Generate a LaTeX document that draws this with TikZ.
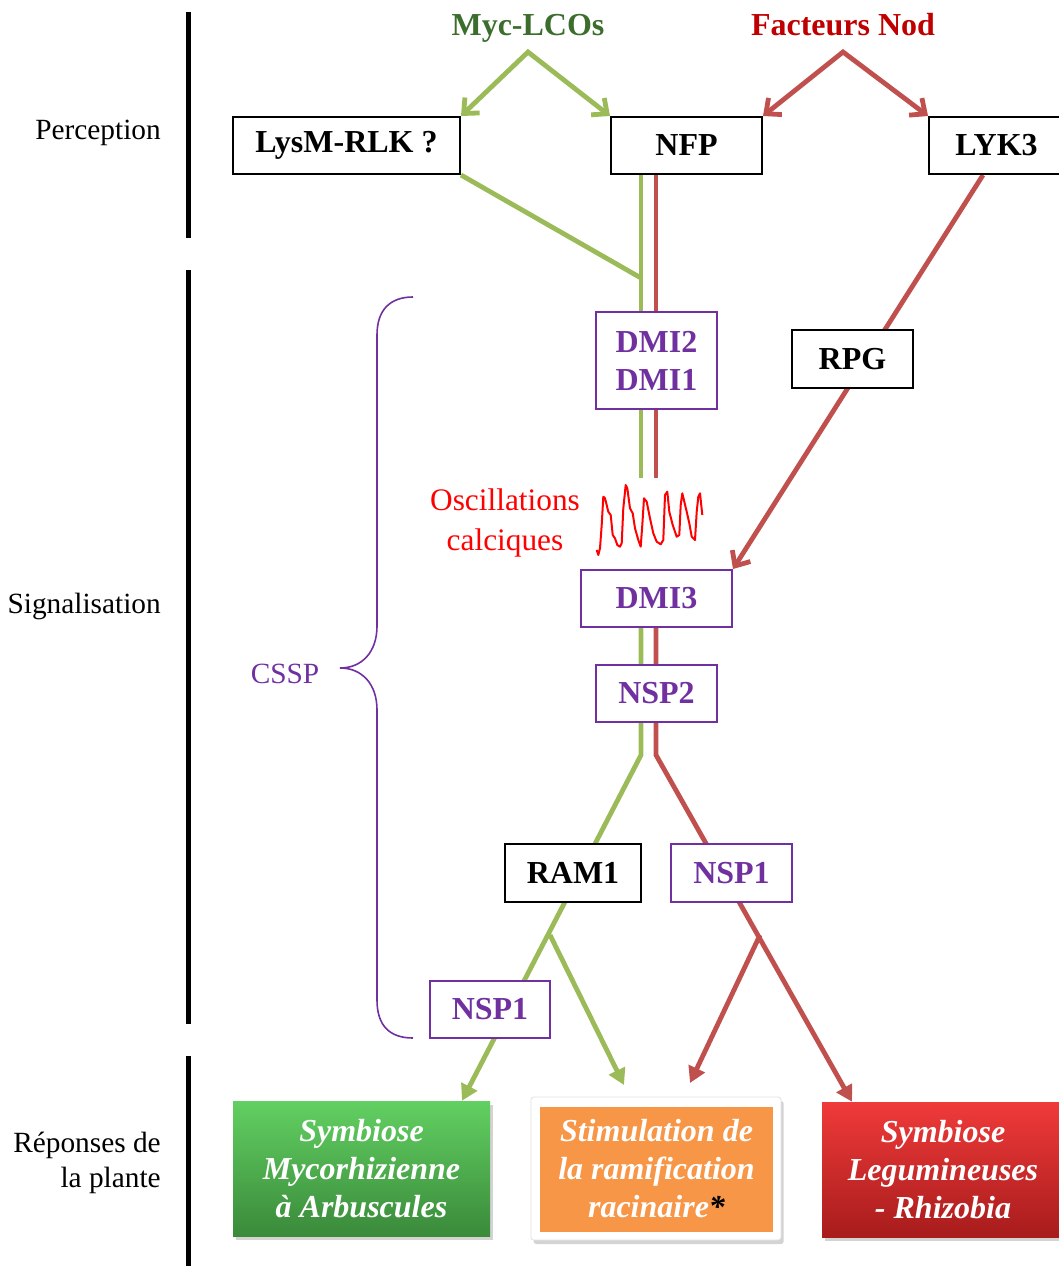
\documentclass[tikz,border=0pt]{standalone}
\usepackage{fontspec}
\setmainfont{Liberation Serif}
\usetikzlibrary{arrows.meta,shadows,backgrounds}
\definecolor{lgreen}{HTML}{9BBB59}
\definecolor{lred}{HTML}{C0504D}
\definecolor{purp}{HTML}{7030A0}
\definecolor{dgreen}{HTML}{3B6E2C}
\definecolor{dred}{HTML}{C00000}
\definecolor{orng}{HTML}{F79646}
\begin{document}
\begin{tikzpicture}[x=0.75pt,y=-0.75pt,
  boxfont/.style={font=\fontsize{24}{28.5}\selectfont\bfseries},
  blackbox/.style={boxfont,draw=black,line width=1.5pt,fill=white,inner sep=0pt},
  purpbox/.style={boxfont,draw=purp,line width=1.5pt,fill=white,text=purp,inner sep=0pt,align=center},
  gline/.style={draw=lgreen,line width=3.6pt},
  rline/.style={draw=lred,line width=3.6pt},
  barb/.style={-{Straight Barb[length=9pt,width=16pt]}},
  tri/.style={-{Triangle[length=12pt,width=13pt]}},
  sectlabel/.style={font=\fontsize{22}{26.5}\selectfont,align=right,anchor=east,inner sep=0pt},
  result/.style={inner sep=0pt,align=center,text=white,font=\fontsize{24}{28.5}\selectfont\bfseries\itshape,
     drop shadow={opacity=0.35,shadow xshift=2pt,shadow yshift=-3pt}},
  bar/.style={line width=3.75pt,black},
  signal/.style={font=\fontsize{24}{28}\selectfont\bfseries,anchor=base,inner sep=0pt}
]
\useasboundingbox (0,0) rectangle (1059,1266);

% section bars and labels
\draw[bar] (188,12) -- (188,238);
\draw[bar] (188,270) -- (188,1024);
\draw[bar] (188,1056) -- (188,1266);
\node[sectlabel] (perc) at (161,133) {Perception};
\node[sectlabel] (sig) at (161,606) {Signalisation};
\node[sectlabel] (rep) at (161,1163) {Réponses de\\la plante};

% signals
\node[signal,text=dgreen] (myc) at (528,36) {Myc-LCOs};
\node[signal,text=dred] (nod) at (843,36) {Facteurs Nod};

% boxes
\node[blackbox,minimum width=170.25pt,minimum height=42.75pt] (lysm) at (346.5,145.5) {LysM-RLK ?};
\node[blackbox,minimum width=113.25pt,minimum height=42.75pt] (nfp) at (686.5,145.5) {NFP};
\node[blackbox,minimum width=101.25pt,minimum height=42.75pt] (lyk) at (996.5,145.5) {LYK3};
\node[purpbox,minimum width=90.75pt,minimum height=72.75pt] (dmi) at (656.5,360.5) {DMI2\\DMI1};
\node[blackbox,minimum width=90.75pt,minimum height=43.5pt] (rpg) at (852.5,359) {RPG};
\node[purpbox,minimum width=113.25pt,minimum height=42.75pt] (dmi3) at (656.5,598.5) {DMI3};
\node[purpbox,minimum width=90.75pt,minimum height=42.75pt] (nsp2) at (656.5,693.5) {NSP2};
\node[blackbox,minimum width=102pt,minimum height=43.5pt] (ram) at (573,873) {RAM1};
\node[purpbox,minimum width=90.75pt,minimum height=43.5pt] (nspr) at (731.5,873) {NSP1};
\node[purpbox,minimum width=90pt,minimum height=42.75pt] (nspl) at (490,1009.5) {NSP1};

% oscillations
\node[text=red,font=\fontsize{23.5}{29.5}\selectfont,align=center] (osc) at (505,523) {Oscillations\\calciques};
\draw[red,line width=1.5pt,line join=round] (596.7,550) -- (598.3,555) -- (600,548.3) -- (601.7,525) -- (603.3,496.7)
  -- (605,498.3) -- (608.3,511.7) -- (610.7,515) -- (612.7,535) -- (615,538.3) -- (617.3,545) -- (620,546.7)
  -- (621.7,543.3) -- (623.3,508.3) -- (625.7,485) -- (627.3,488.3) -- (630,508.3) -- (632.7,513.3) -- (635,528.3)
  -- (638.3,540) -- (640.7,546.7) -- (642.3,525) -- (644,498.3) -- (646.7,501.7) -- (650,518.3) -- (653.3,533.3)
  -- (656.7,541.7) -- (660.7,544.3) -- (663.3,540) -- (665,495) -- (667.3,491.7) -- (669.3,511.7) -- (672.7,525)
  -- (676.7,536.7) -- (679.3,535) -- (680.7,505) -- (682.3,493.3) -- (684.3,501.7) -- (686.7,511.7) -- (689.3,523.3)
  -- (691.7,536.7) -- (695,540) -- (696.7,511.7) -- (698.3,496.7) -- (700,493.3) -- (702.3,515);

% CSSP brace
\node[text=purp,font=\fontsize{22}{26}\selectfont] (cssp) at (285,674) {CSSP};
\draw[purp,line width=1.2pt] (413,297) .. controls (390,297) and (377,310) .. (377,335) -- (377,626)
  .. controls (377,652) and (362,668) .. (340,668) .. controls (362,668) and (377,684) .. (377,710)
  -- (377,1000) .. controls (377,1026) and (390,1038) .. (413,1038);

% responses
\node[result,top color={rgb,255:red,98;green,208;blue,98},bottom color={rgb,255:red,58;green,138;blue,58},
  minimum width=192.75pt,minimum height=101.25pt] (amf) at (361.5,1168.5) {Symbiose\\Mycorhizienne\\à Arbuscules};
\node[fill=white,draw=black!12,line width=0.6pt,rounded corners=2pt,minimum width=187.5pt,minimum height=107.25pt,
  drop shadow={opacity=0.35,shadow xshift=2pt,shadow yshift=-3pt}] (frame) at (656,1168.5) {};
\node[inner sep=0pt,align=center,text=white,font=\fontsize{24}{28.5}\selectfont\bfseries\itshape,fill=orng,
  minimum width=174.75pt,minimum height=93.75pt] (ramif) at (656.5,1169) {Stimulation de\\la ramification\\racinaire\textcolor{black}{*}};
\node[result,top color={rgb,255:red,240;green,58;blue,58},bottom color={rgb,255:red,168;green,28;blue,28},
  minimum width=181.5pt,minimum height=101.25pt] (rhiz) at (943,1169.5) {Symbiose\\Legumineuses\\- Rhizobia};

% connectors
\begin{scope}[on background layer]
  \coordinate (gx) at (641,0);
  \coordinate (rx) at (656,0);
  \coordinate (lykx) at (983,0);
  \coordinate (mycs) at (528,52);
  \coordinate (nods) at (843,52);
  \coordinate (gjoin) at (641,278);
  \coordinate (gstop) at (641,478);
  \coordinate (rstop) at (656,478);
  \coordinate (gsplit) at (641,755);
  \coordinate (rsplit) at (656,755);
  \coordinate (gendx) at (462,0);
  \coordinate (rendx) at (852,0);
  \coordinate (gbr) at (550,935);
  \coordinate (gbrend) at (624,1085);
  \coordinate (rbr) at (760,935);
  \coordinate (rbrend) at (690,1083);

  \draw[gline,line join=miter,{Straight Barb[length=9pt,width=16pt]}-{Straight Barb[length=9pt,width=16pt]}]
     (lysm.north east) -- (mycs) -- (nfp.north west);
  \draw[rline,line join=miter,{Straight Barb[length=9pt,width=16pt]}-{Straight Barb[length=9pt,width=16pt]}]
     (nfp.north east) -- (nods) -- (lyk.north west);

  \draw[gline] (lysm.south east) -- (gjoin);
  \draw[gline] (nfp.south -| gx) -- (gstop);
  \draw[rline] (nfp.south -| rx) -- (rstop);
  \draw[rline,barb] (lyk.south -| lykx) -- (dmi3.north east);

  \draw[gline,tri,line join=miter] (dmi3.south -| gx) -- (gsplit) -- (amf.north -| gendx);
  \draw[rline,tri,line join=miter] (dmi3.south -| rx) -- (rsplit) -- (rhiz.north -| rendx);
  \draw[gline,tri] (gbr) -- (gbrend);
  \draw[rline,tri] (rbr) -- (rbrend);
\end{scope}
\end{tikzpicture}
\end{document}
